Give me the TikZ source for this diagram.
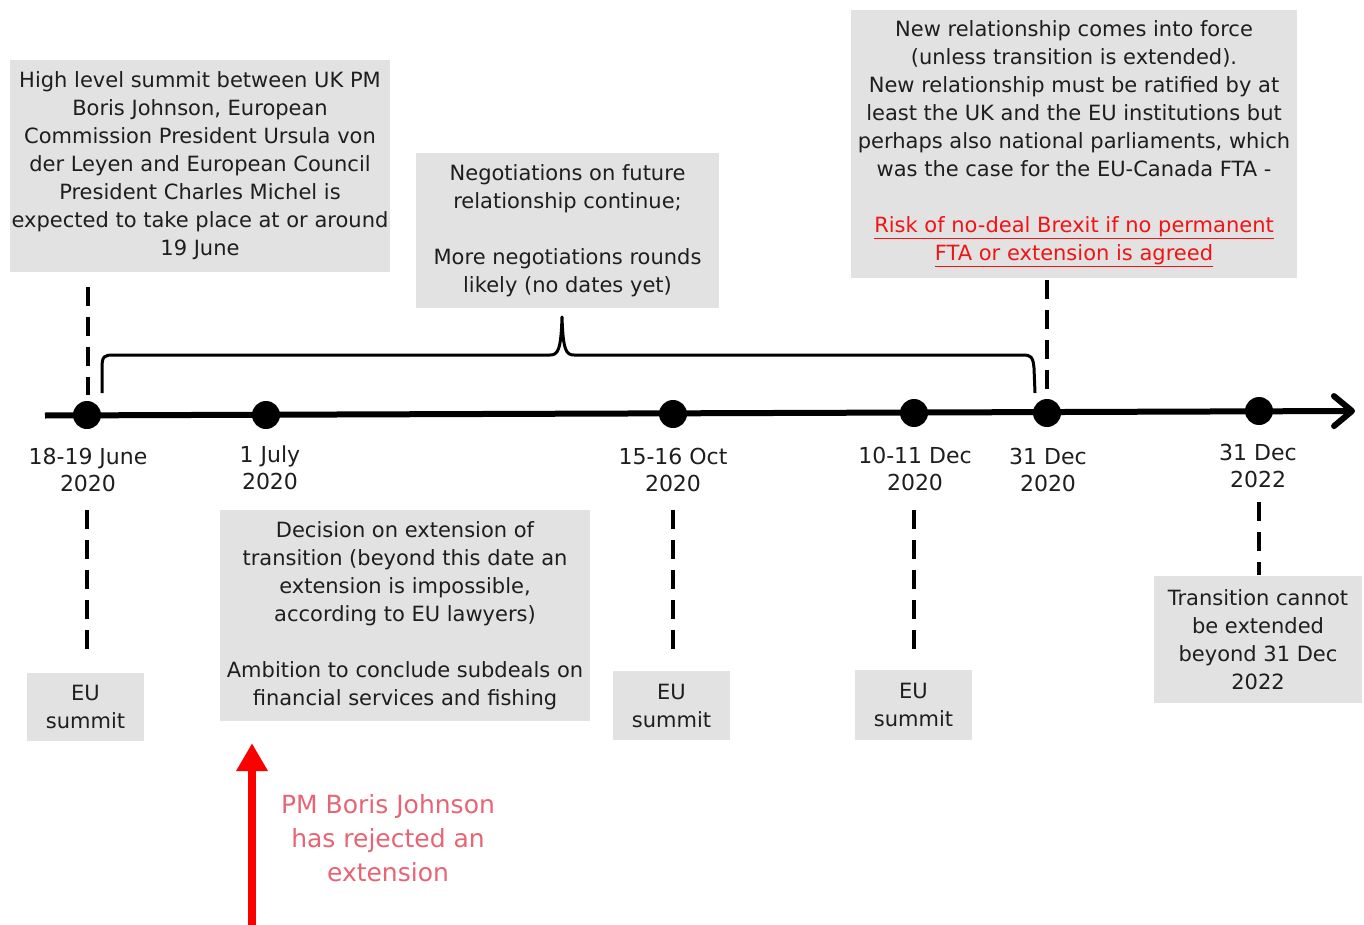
\documentclass[tikz,border=0pt]{standalone}
\usepackage{fontspec}
\setmainfont{DejaVu Sans}
\usetikzlibrary{arrows.meta,calc}
\definecolor{boxgray}{RGB}{226,226,226}
\definecolor{txt}{RGB}{30,30,30}
\definecolor{pinkred}{RGB}{232,100,116}
\definecolor{linkred}{RGB}{240,20,20}
\definecolor{arrred}{RGB}{250,0,0}
\tikzset{
  infobox/.style={fill=boxgray, inner sep=0pt, align=center, text=txt,
    font=\fontsize{21}{28}\selectfont},
  datelbl/.style={inner sep=0pt, align=center, text=txt,
    font=\fontsize{22}{27}\selectfont},
  dot/.style={circle, fill=black, minimum size=28pt, inner sep=0pt},
  axisline/.style={line width=6pt, -{Straight Barb[length=18pt,width=30pt,round]}},
  dashln/.style={line width=4pt, dash pattern=on 19pt off 11pt},
  braceln/.style={line width=3pt, line join=round},
  redarrow/.style={arrred, line width=8pt, -{Triangle[length=28pt,width=30pt]}},
  redtxt/.style={inner sep=0pt, align=center, text=pinkred,
    font=\fontsize{25}{34}\selectfont}
}
\begin{document}
\begin{tikzpicture}[x=1pt,y=-1pt]
\useasboundingbox (0,0) rectangle (1364,925);

% boxes
\node[infobox, minimum width=380pt, minimum height=212pt] (b1) at (200,166)
  {High level summit between UK PM\\Boris Johnson, European\\Commission President Ursula von\\der Leyen and European Council\\President Charles Michel is\\expected to take place at or around\\19 June};
\node[infobox, minimum width=303pt, minimum height=155pt] (b2) at (567.5,230.5)
  {Negotiations on future\\relationship continue;\\[28pt]More negotiations rounds\\likely (no dates yet)};
\node[infobox, minimum width=446pt, minimum height=268pt] (b3) at (1074,144)
  {New relationship comes into force\\(unless transition is extended).\\New relationship must be ratified by at\\least the UK and the EU institutions but\\perhaps also national parliaments, which\\was the case for the EU-Canada FTA -\\[28pt]
   \textcolor{linkred}{\underline{Risk of no-deal Brexit if no permanent}}\\
   \textcolor{linkred}{\underline{FTA or extension is agreed}}};

% axis
\coordinate (ax0) at (45,415.5);
\coordinate (ax1) at (1355,411);
\draw[axisline] (ax0) -- (ax1);

% dots
\node[dot] (d1) at (87,415) {};
\node[dot] (d2) at (266,415) {};
\node[dot] (d3) at (673,414) {};
\node[dot] (d4) at (914,413) {};
\node[dot] (d5) at (1047,413) {};
\node[dot] (d6) at (1259,411) {};

% date labels
\node[datelbl] (l1) at (88,470) {18-19 June\\2020};
\node[datelbl] (l2) at (270,468) {1 July\\2020};
\node[datelbl] (l3) at (673,470) {15-16 Oct\\2020};
\node[datelbl] (l4) at (915,469) {10-11 Dec\\2020};
\node[datelbl] (l5) at (1048,470) {31 Dec\\2020};
\node[datelbl] (l6) at (1258,466) {31 Dec\\2022};

% lower boxes
\node[infobox, minimum width=117pt, minimum height=68pt] (e1) at (85.5,707) {EU\\summit};
\node[infobox, minimum width=370pt, minimum height=211pt] (b5) at (405,615.5)
  {Decision on extension of\\transition (beyond this date an\\extension is impossible,\\according to EU lawyers)\\[28pt]Ambition to conclude subdeals on\\financial services and fishing};
\node[infobox, minimum width=117pt, minimum height=69pt] (e2) at (671.5,705.5) {EU\\summit};
\node[infobox, minimum width=117pt, minimum height=70pt] (e3) at (913.5,705) {EU\\summit};
\node[infobox, minimum width=208pt, minimum height=127pt] (b6) at (1258,639.5)
  {Transition cannot\\be extended\\beyond 31 Dec\\2022};

% dashed connectors (upper)
\draw[dashln] ($(b1.south -| d1)+(1,15)$) -- ($(d1.north)+(1,-6)$);
\draw[dashln] ($(b3.south -| d5)+(0,2)$) -- ($(d5.north)+(0,-6)$);

% dashed connectors (lower)
\draw[dashln] ($(d1)+(0,95)$) -- ($(d1 |- e1.north)+(0,-18)$);
\draw[dashln] ($(d3)+(0,96)$) -- ($(d3 |- e2.north)+(0,-16)$);
\draw[dashln] ($(d4)+(0,97)$) -- ($(d4 |- e3.north)+(0,-15)$);
\draw[dashln] ($(d6)+(0,91)$) -- ($(d6 |- b6.north)+(0,-1)$);

% brace
\coordinate (brL) at (102,393);
\coordinate (brR) at (1035,393);
\coordinate (brT) at (562,317);
\draw[braceln] (brL) -- (102,368) .. controls (102,356) and (104,355) .. (114,355)
  -- (550,355) .. controls (558,355) and (561,350) .. (brT)
  .. controls (563,350) and (566,355) .. (574,355)
  -- (1023,355) .. controls (1031,355) and (1033,357) .. (1034,368) -- (brR);

% red arrow and text
\coordinate (ra) at (252,925);
\draw[redarrow] (ra) -- ($(ra |- b5.south)+(0,22)$);
\node[redtxt] (rej) at (388,838) {PM Boris Johnson\\has rejected an\\extension};
\end{tikzpicture}
\end{document}
